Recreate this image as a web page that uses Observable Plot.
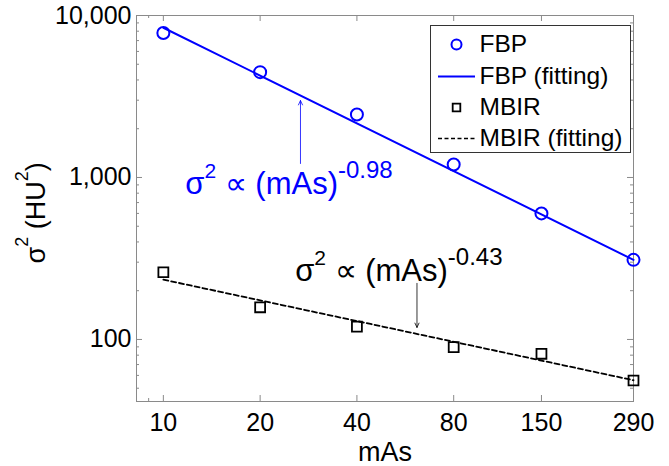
<!DOCTYPE html>
<html><head><meta charset="utf-8">
<script src="https://cdn.jsdelivr.net/npm/d3@7"></script>
<script src="https://cdn.jsdelivr.net/npm/@observablehq/plot@0.6"></script>
<style>body{margin:0;background:#fff}</style>
</head><body><div id="chart"></div>
<script>
// ---- data ----
const mAs = [10, 20, 40, 80, 150, 290];
const fbp = [7800, 4470, 2450, 1202, 600, 310];
const mbir = [260, 158, 120, 89.7, 81.6, 55.8];
const fitX = [10, 290];
const fbpFit = [8400, 310];
const mbirFit = [234, 56];
const xTicks = [10, 20, 40, 80, 150, 290];
const xMinor = [9];
const yTicks = [100, 1000, 10000];
const yMinor = [50, 60, 70, 80, 90, 200, 300, 400, 500, 600, 700, 800, 900,
                2000, 3000, 4000, 5000, 6000, 7000, 8000, 9000];
const legendLabels = ["FBP", "FBP (fitting)", "MBIR", "MBIR (fitting)"];
const fbpArrow = [{x: 26.7, y1: 1220, y2: 2985}];
const mbirArrow = [{x: 61.5, y1: 222, y2: 118.6}];
const fbpNote = [{x: 11.7, y: 796}];
const mbirNote = [{x: 25.7, y: 231}];
const fbpExp = "-0.98";
const mbirExp = "-0.43";

// ---- layout ----
const W = 669, Hh = 466;
const mL = 136, mR = 36, mT = 15, mB = 65;
const FW = W - mL - mR, FH = Hh - mT - mB;
const FONT = '"Liberation Sans", Arial, Helvetica, sans-serif';
const GRAY = "#8a8a8a";
const BLUE = "#0000ff";

const ctx = document.createElement("canvas").getContext("2d");
function tw(s, size) { ctx.font = `${size}px ${FONT}`; return ctx.measureText(s).width; }

// rich text (with superscripts) built from several Plot.text marks
function richNote(data, segs, color, supShift) {
  let off = 0; const marks = [];
  for (const s of segs) {
    off += s.gap ? tw(" ", s.size) : 0;
    marks.push(Plot.text(data, {
      x: "x", y: "y", text: () => s.t, textAnchor: "start", lineAnchor: "bottom",
      fontSize: s.size, fill: color, fontFamily: FONT,
      dx: off, dy: s.sup ? -supShift : 0
    }));
    off += tw(s.t, s.size);
  }
  return marks;
}
const MAIN = 31, SUP2 = 21, SUPE = 24;
function noteSegs(exp) {
  return [
    {t: "σ", size: MAIN},
    {t: "2", size: SUP2, sup: true},
    {t: "∝ (mAs)", size: MAIN, gap: true},
    {t: exp, size: SUPE, sup: true}
  ];
}

// y axis label: σ² (HU²) rotated
function yLabel() {
  const segs = [
    {t: "σ", size: 27},
    {t: "2", size: 18, sup: true},
    {t: "(HU", size: 27, gap: true},
    {t: "2", size: 18, sup: true},
    {t: ")", size: 27}
  ];
  let off = 0; const marks = [];
  const startDy = 263 - (mT + FH / 2);
  for (const s of segs) {
    off += s.gap ? tw(" ", s.size) : 0;
    marks.push(Plot.text([0], {
      frameAnchor: "left", text: () => s.t, rotate: -90,
      textAnchor: "start", lineAnchor: "bottom", fontSize: s.size, fontFamily: FONT,
      fill: "black", dx: (44 - mL) - (s.sup ? 17 : 0), dy: startDy - off
    }));
    off += tw(s.t, s.size);
  }
  return marks;
}

// legend (inside the frame, top right)
const box = {left: 430, top: 25, right: 630, bottom: 152};
const rowY = [44, 76, 107, 138];
const markX = 456, textX = 479;
const hline = {draw(c) { c.moveTo(-18.5, 0); c.lineTo(18.5, 0); }};
function legendMarks() {
  const m = [];
  m.push(Plot.frame({fill: "white", stroke: "#333", strokeWidth: 1,
    insetLeft: box.left - mL, insetTop: box.top - mT,
    insetRight: (W - mR) - box.right, insetBottom: (Hh - mB) - box.bottom}));
  const styles = [
    {symbol: "circle", r: 5, stroke: BLUE, strokeWidth: 2},
    {symbol: hline, stroke: BLUE, strokeWidth: 2},
    {symbol: "square", r: 4.3, stroke: "black", strokeWidth: 1.8},
    {symbol: hline, stroke: "black", strokeWidth: 1.6, strokeDasharray: "4,2.5"}
  ];
  legendLabels.forEach((lab, i) => {
    m.push(Plot.dot([0], {frameAnchor: "top-left", dx: markX - mL, dy: rowY[i] - mT,
      fill: "none", ...styles[i]}));
    m.push(Plot.text([lab], {frameAnchor: "top-left", dx: textX - mL, dy: rowY[i] - mT,
      text: d => d, textAnchor: "start", lineAnchor: "middle", fontSize: 24.5,
      fontFamily: FONT, fill: "black"}));
  });
  return m;
}

const chart = Plot.plot({
  width: W, height: Hh,
  marginLeft: mL, marginRight: mR, marginTop: mT, marginBottom: mB,
  x: {type: "log", domain: [8.25, 290]},
  y: {type: "log", domain: [41.4, 10000]},
  style: {fontFamily: FONT, background: "white", color: "black"},
  marks: [
    // tick marks (inward) on all four sides
    Plot.ruleX(xTicks, {x: d => d, insetTop: FH - 6, stroke: GRAY}),
    Plot.ruleX(xTicks, {x: d => d, insetBottom: FH - 6, stroke: GRAY}),
    Plot.ruleX(xMinor, {x: d => d, insetTop: FH - 3, stroke: GRAY}),
    Plot.ruleX(xMinor, {x: d => d, insetBottom: FH - 3, stroke: GRAY}),
    Plot.ruleY(yTicks, {y: d => d, insetRight: FW - 6, stroke: GRAY}),
    Plot.ruleY(yTicks, {y: d => d, insetLeft: FW - 6, stroke: GRAY}),
    Plot.ruleY(yMinor, {y: d => d, insetRight: FW - 3, stroke: GRAY}),
    Plot.ruleY(yMinor, {y: d => d, insetLeft: FW - 3, stroke: GRAY}),
    Plot.frame({stroke: GRAY, strokeWidth: 1}),
    Plot.axisX({ticks: xTicks, tickSize: 0, tickPadding: 12, fontSize: 25,
      tickFormat: d => String(d), label: null}),
    Plot.axisY({ticks: yTicks, tickSize: 0, tickPadding: 5, fontSize: 25,
      tickFormat: d3.format(","), label: null}),
    Plot.text(["mAs"], {frameAnchor: "bottom", dy: 59, text: d => d, lineAnchor: "bottom",
      textAnchor: "middle", fontSize: 27, fontFamily: FONT, fill: "black"}),
    ...yLabel(),
    // fitting lines
    Plot.line(fitX, {x: d => d, y: (d, i) => fbpFit[i], stroke: BLUE, strokeWidth: 2}),
    Plot.line(fitX, {x: d => d, y: (d, i) => mbirFit[i], stroke: "black", strokeWidth: 1.8,
      strokeDasharray: "5,3"}),
    // measured points
    Plot.dot(mAs, {x: d => d, y: (d, i) => fbp[i], r: 6, stroke: BLUE, strokeWidth: 2, fill: "none"}),
    Plot.dot(mAs, {x: d => d, y: (d, i) => mbir[i], symbol: "square", r: 5.6, stroke: "black",
      strokeWidth: 1.8, fill: "none"}),
    // annotations
    Plot.arrow(fbpArrow, {x: "x", y1: "y1", y2: "y2", stroke: BLUE, strokeWidth: 0.8,
      headLength: 9, headAngle: 50}),
    Plot.arrow(mbirArrow, {x: "x", y1: "y1", y2: "y2", stroke: "black", strokeWidth: 0.8,
      headLength: 9, headAngle: 50}),
    ...richNote(fbpNote, noteSegs(fbpExp), BLUE, 16),
    ...richNote(mbirNote, noteSegs(mbirExp), "black", 16),
    ...legendMarks()
  ]
});
document.getElementById("chart").append(chart);
</script>
</body></html>
